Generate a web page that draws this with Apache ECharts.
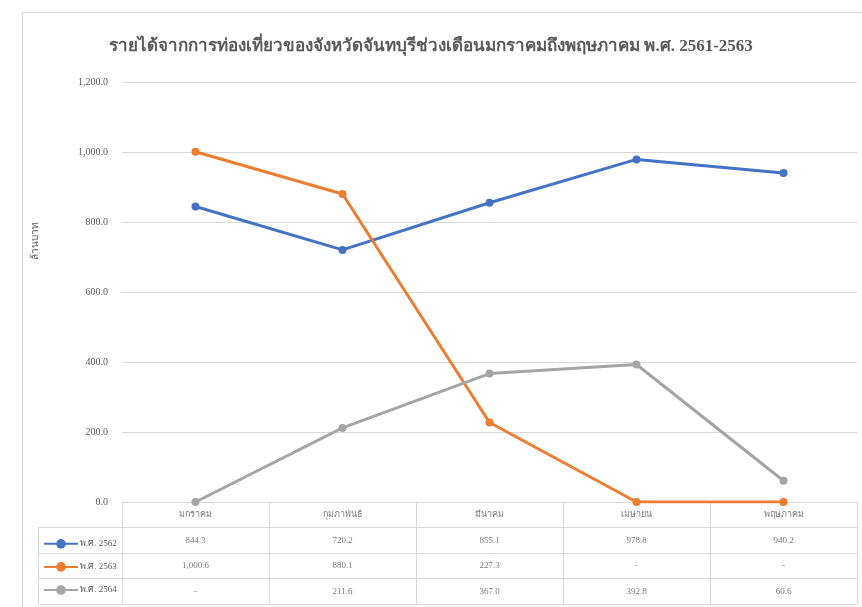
<!DOCTYPE html>
<html>
<head>
<meta charset="utf-8">
<script src="https://cdn.jsdelivr.net/npm/echarts@6/dist/echarts.min.js"></script>
<style>
  html, body { margin: 0; padding: 0; background: #ffffff; }
  #chart { width: 862px; height: 607px; }
</style>
</head>
<body>
<div id="chart"></div>
<script>
// Tourism revenue, Chanthaburi, January–May (million baht)
const categories = ['มกราคม', 'กุมภาพันธ์', 'มีนาคม', 'เมษายน', 'พฤษภาคม'];
const seriesNames = ['พ.ศ. 2562', 'พ.ศ. 2563', 'พ.ศ. 2564'];
const values2562 = [844.3, 720.2, 855.1, 978.8, 940.2];
const values2563 = [1000.6, 880.1, 227.3, 0, 0];
const values2564 = [0, 211.6, 367.0, 392.8, 60.6];
const yTicks = { min: 0, max: 1200, interval: 200 };

const seriesValues = [values2562, values2563, values2564];
const colors = ['#4472C4', '#ED7D31', '#A5A5A5'];
const textGray = '#595959';
const lineGray = '#D9D9D9';
const font = 'Liberation Serif, serif';

// accounting style: zero shows as a dash
function fmt(v) {
  if (v === 0) return '-';
  return v.toLocaleString('en-US', { minimumFractionDigits: 1, maximumFractionDigits: 1 });
}

// data-table cells: header row (category names) + one row per series
const tableRows = ['head'].concat(seriesNames);
const cellData = [];
categories.forEach((c, i) => {
  cellData.push([i, 0, c]);
  seriesValues.forEach((vals, s) => cellData.push([i, s + 1, fmt(vals[i])]));
});

const chart = echarts.init(document.getElementById('chart'), null, { renderer: 'canvas' });

chart.setOption({
  backgroundColor: '#ffffff',
  animation: false,
  color: colors,
  title: {
    text: 'รายได้จากการท่องเที่ยวของจังหวัดจันทบุรีช่วงเดือนมกราคมถึงพฤษภาคม พ.ศ. 2561-2563',
    left: 'center',
    top: 33,
    textStyle: { fontFamily: font, fontSize: 17, fontWeight: 'bold', color: textGray }
  },
  legend: {
    data: seriesNames,
    orient: 'vertical',
    left: 38,
    top: 534,
    itemWidth: 34,
    itemHeight: 12,
    itemGap: 13.5,
    textStyle: { fontFamily: font, fontSize: 9, color: textGray, padding: [0, 0, 0, -3] },
    selectedMode: false
  },
  grid: [
    { left: 122, right: 5, top: 82, height: 420 },
    { left: 122, right: 5, top: 502, height: 102 },
    { left: 38, width: 84, top: 527.5, height: 76.5 }
  ],
  xAxis: [
    {
      gridIndex: 0, type: 'category', data: categories, boundaryGap: true,
      axisLine: { show: false }, axisTick: { show: false }, axisLabel: { show: false }
    },
    {
      gridIndex: 1, type: 'category', data: categories, boundaryGap: true, position: 'top',
      axisLine: { show: true, lineStyle: { color: lineGray } },
      axisTick: { show: false }, axisLabel: { show: false },
      splitLine: { show: true, lineStyle: { color: lineGray } }
    },
    {
      gridIndex: 2, type: 'value', show: false
    }
  ],
  yAxis: [
    {
      gridIndex: 0, type: 'value', min: yTicks.min, max: yTicks.max, interval: yTicks.interval,
      axisLine: { show: false }, axisTick: { show: false },
      axisLabel: {
        fontFamily: font, fontSize: 10, color: textGray, margin: 14,
        formatter: v => v.toLocaleString('en-US', { minimumFractionDigits: 1, maximumFractionDigits: 1 })
      },
      splitLine: { lineStyle: { color: lineGray } }
    },
    {
      gridIndex: 1, type: 'category', data: tableRows, inverse: true, boundaryGap: true,
      axisLine: { show: true, lineStyle: { color: lineGray } },
      axisTick: { show: false }, axisLabel: { show: false },
      splitLine: { show: true, lineStyle: { color: lineGray } }
    },
    {
      gridIndex: 2, type: 'category', data: seriesNames, inverse: true, boundaryGap: true,
      axisLine: { show: true, lineStyle: { color: lineGray } },
      axisTick: { show: false }, axisLabel: { show: false },
      splitLine: { show: true, lineStyle: { color: lineGray } }
    }
  ],
  graphic: [
    {
      type: 'rect', left: 20, top: 10, silent: true,
      shape: { width: 900, height: 700 },
      style: { fill: 'none', stroke: '#D9D9D9', lineWidth: 1 }
    },
    {
      type: 'text', left: 30, top: 222, rotation: Math.PI / 2, silent: true,
      style: { text: 'ล้านบาท', font: '10px ' + font, fill: textGray }
    }
  ],
  series: seriesNames.map((name, s) => ({
    name,
    type: 'line',
    xAxisIndex: 0,
    yAxisIndex: 0,
    data: seriesValues[s],
    symbol: 'circle',
    symbolSize: 8,
    lineStyle: { width: 3, color: colors[s] },
    itemStyle: { color: colors[s] },
    z: 3 + s
  })).concat([{
    name: 'table',
    type: 'scatter',
    xAxisIndex: 1,
    yAxisIndex: 1,
    silent: true,
    symbolSize: 1,
    itemStyle: { color: 'rgba(0,0,0,0)' },
    data: cellData,
    label: {
      show: true,
      position: 'inside',
      fontFamily: font,
      fontSize: 9,
      color: textGray,
      formatter: p => p.data[2]
    }
  }])
});
</script>
</body>
</html>
